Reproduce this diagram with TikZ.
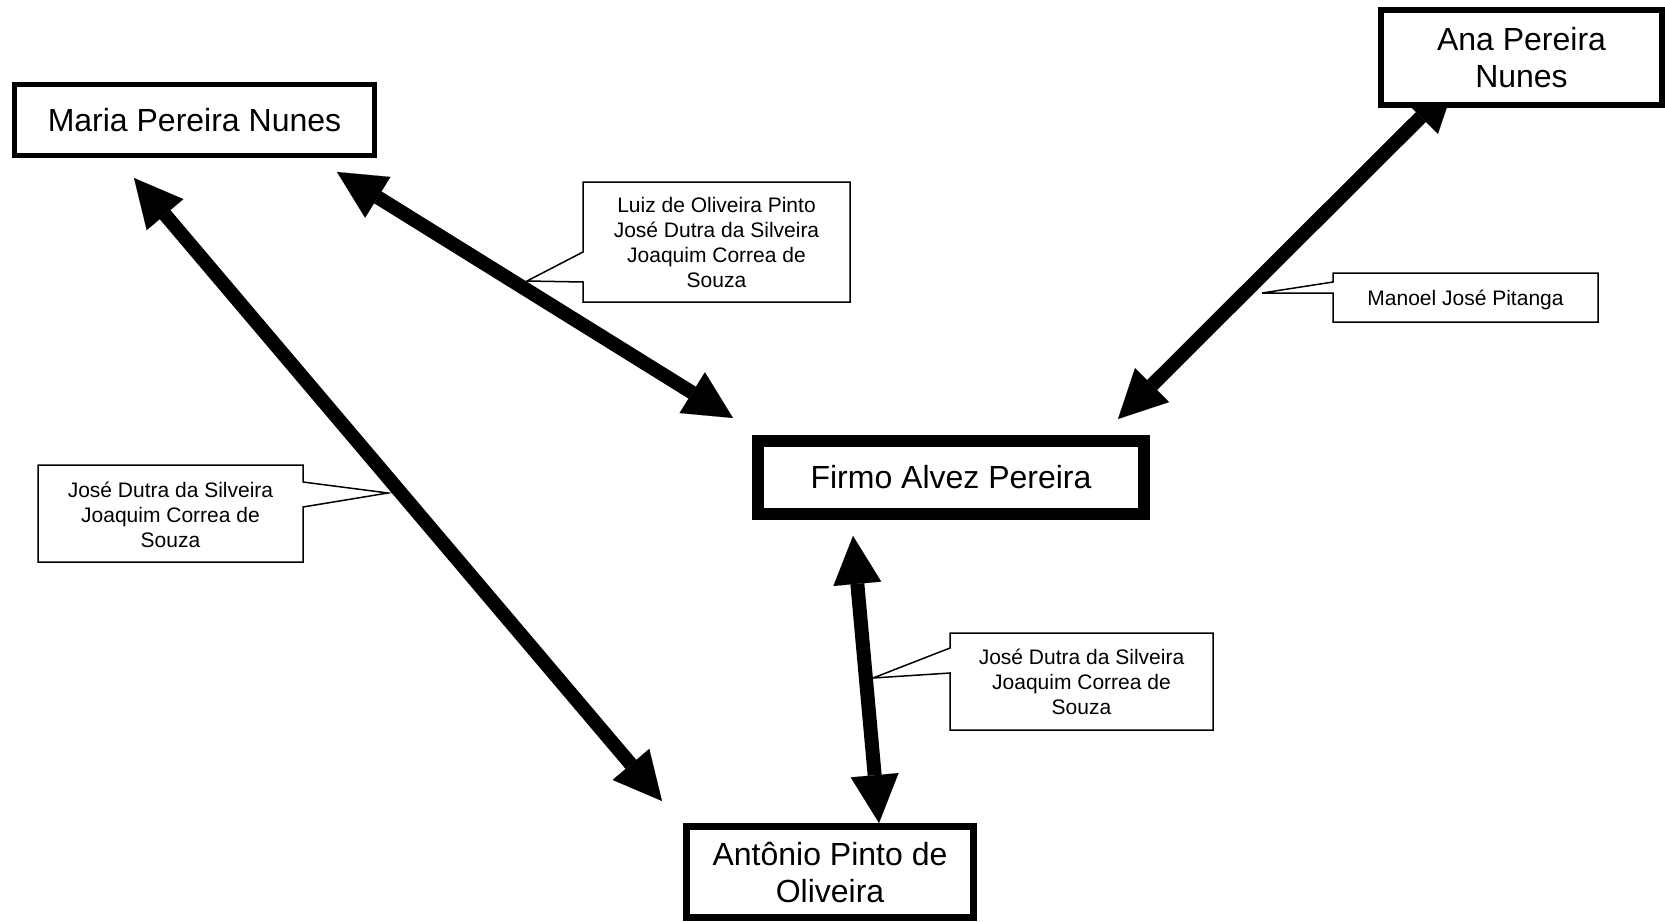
\documentclass[tikz,border=0pt]{standalone}
\usepackage{fontspec}
\setmainfont{Liberation Sans}
\usetikzlibrary{arrows.meta}
\tikzset{
  person/.style={draw=black, fill=white, inner sep=0pt, align=center,
    font=\fontsize{32}{37}\selectfont},
  callout/.style={draw=black, fill=white, line width=1.5pt, line join=miter},
  callouttext/.style={inner sep=0pt, align=center, font=\fontsize{21}{25}\selectfont},
  bigarrow/.style={line width=14pt,
    {Triangle[length=48pt,width=48pt,line width=0.1pt]}-{Triangle[length=48pt,width=48pt,line width=0.1pt]}}
}
\begin{document}
\begin{tikzpicture}[x=1pt,y=-1pt]
\useasboundingbox (0,0) rectangle (1665,921);
\fill[white] (0,0) rectangle (1665,921);

% arrow end points
\coordinate (a1) at (134,178);
\coordinate (a2) at (662,801);
\coordinate (b1) at (337,172);
\coordinate (b2) at (733,418);
\coordinate (c1) at (1455,83);
\coordinate (c2) at (1118,419);
\coordinate (d1) at (853,536);
\coordinate (d2) at (879,823);

\draw[bigarrow] (a1) -- (a2);
\draw[bigarrow] (b1) -- (b2);
\draw[bigarrow] (c1) -- (c2);
\draw[bigarrow] (d1) -- (d2);

% person boxes
\node[person, line width=5pt, minimum width=360pt, minimum height=71pt] (maria) at (194.5,120) {Maria Pereira Nunes};
\node[person, line width=6pt, minimum width=281pt, minimum height=95pt] (ana) at (1521.5,57.5) {Ana Pereira\\Nunes};
\node[person, line width=12pt, minimum width=386pt, minimum height=73pt] (firmo) at (951,477.5) {Firmo Alvez Pereira};
\node[person, line width=7pt, minimum width=287pt, minimum height=91pt] (antonio) at (830,872) {Antônio Pinto de\\Oliveira};

% callouts
\draw[callout] (583,182) -- (850,182) -- (850,302) -- (583,302) -- (583,282) -- (527,281) -- (583,252) -- cycle;
\node[callouttext] (c1t) at (716.5,242) {Luiz de Oliveira Pinto\\José Dutra da Silveira\\Joaquim Correa de\\Souza};

\draw[callout] (1333,273) -- (1598,273) -- (1598,322) -- (1333,322) -- (1333,293) -- (1262,293) -- (1333,282) -- cycle;
\node[callouttext] (c2t) at (1465.5,300) {Manoel José Pitanga};

\draw[callout] (38,465) -- (303,465) -- (303,482) -- (388,493) -- (303,507) -- (303,562) -- (38,562) -- cycle;
\node[callouttext] (c3t) at (170.5,514.5) {José Dutra da Silveira\\Joaquim Correa de\\Souza};

\draw[callout] (950,633) -- (1213,633) -- (1213,730) -- (950,730) -- (950,673) -- (873,678) -- (950,648) -- cycle;
\node[callouttext] (c4t) at (1081.5,682) {José Dutra da Silveira\\Joaquim Correa de\\Souza};
\end{tikzpicture}
\end{document}
